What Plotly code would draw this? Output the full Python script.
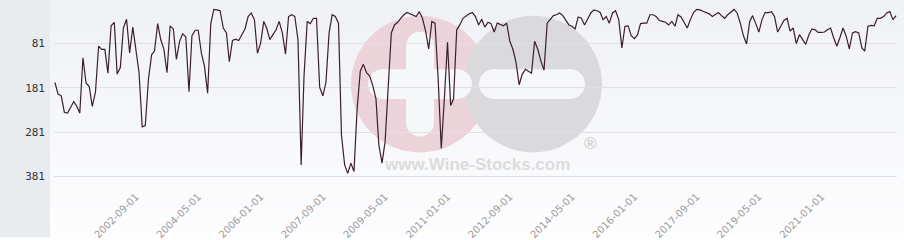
import pandas as pd
import plotly.graph_objects as go

# ---- data (monthly ranking) ----
start_month = "2000-07-01"
rank_values = [
    169, 195, 199, 236, 238, 225, 212, 223, 238, 113,
    170, 178, 223, 191, 87, 94, 94, 148, 41, 33,
    150, 135, 46, 26, 102, 44, 102, 147, 269, 266,
    161, 106, 98, 36, 72, 94, 147, 41, 48, 117,
    76, 59, 66, 190, 63, 51, 51, 102, 132, 193,
    36, 4, 5, 7, 46, 57, 122, 74, 71, 74,
    61, 48, 20, 12, 27, 103, 80, 31, 46, 72,
    61, 50, 31, 57, 105, 20, 16, 20, 72, 355,
    155, 31, 36, 24, 24, 180, 199, 169, 57, 16,
    20, 35, 288, 355, 374, 351, 370, 228, 143, 128,
    147, 154, 176, 206, 310, 351, 303, 176, 57, 39,
    33, 24, 16, 11, 14, 16, 20, 9, 24, 53,
    93, 31, 35, 158, 318, 206, 78, 221, 206, 50,
    39, 24, 18, 14, 11, 20, 39, 26, 44, 33,
    36, 55, 35, 39, 41, 35, 76, 94, 124, 174,
    150, 139, 143, 148, 76, 94, 120, 141, 35, 26,
    18, 16, 12, 18, 29, 39, 42, 48, 21, 24,
    39, 26, 12, 5, 7, 11, 27, 20, 35, 12,
    7, 27, 91, 42, 41, 63, 70, 61, 36, 35,
    35, 16, 16, 20, 29, 31, 33, 39, 31, 42,
    16, 21, 33, 46, 27, 11, 4, 5, 8, 11,
    14, 20, 16, 11, 18, 24, 16, 9, 4, 12,
    35, 63, 82, 31, 18, 36, 55, 27, 11, 11,
    9, 20, 55, 42, 29, 24, 53, 46, 81, 61,
    72, 83, 61, 48, 50, 56, 56, 55, 50, 46,
    68, 87, 68, 46, 65, 93, 57, 54, 57, 91,
    98, 42, 40, 41, 24, 24, 20, 12, 9, 27,
    18,
]
months = pd.date_range(start_month, periods=len(rank_values), freq="MS")

x_tick_dates = ["2002-09-01", "2004-05-01", "2006-01-01", "2007-09-01",
                "2009-05-01", "2011-01-01", "2012-09-01", "2014-05-01",
                "2016-01-01", "2017-09-01", "2019-05-01", "2021-01-01"]
y_tick_values = [81, 181, 281, 381]

# ---- geometry helpers (pixel -> paper) ----
W, H = 904, 240
ML, MR, MT, MB = 54, 7, 0, 50
PW, PH = W - ML - MR, H - MT - MB


def px(x):
    return (x - ML) / PW


def py(y):
    return (MT + PH - y) / PH


shapes = []
# left gray panel
shapes.append(dict(type="rect", xref="paper", yref="paper", layer="below",
                   x0=px(0), x1=px(50), y0=py(H), y1=py(0),
                   fillcolor="#e9ecef", line=dict(width=0)))
# vertical gradient background
nb = 24
c_top = (239, 241, 245)
c_bot = (253, 253, 254)
for k in range(nb):
    t = k / (nb - 1)
    col = tuple(round(c_top[j] + (c_bot[j] - c_top[j]) * t) for j in range(3))
    y0 = k * H / nb
    y1 = (k + 1) * H / nb + 0.5
    shapes.append(dict(type="rect", xref="paper", yref="paper", layer="below",
                       x0=px(50), x1=px(W), y0=py(y1), y1=py(y0),
                       fillcolor="rgb(%d,%d,%d)" % col, line=dict(width=0)))


def circ(cx, cy, r, color):
    return dict(type="circle", xref="paper", yref="paper", layer="below",
                x0=px(cx - r), x1=px(cx + r), y0=py(cy + r), y1=py(cy - r),
                fillcolor=color, line=dict(width=0))


def rect(xa, xb, ya, yb, color):
    return dict(type="rect", xref="paper", yref="paper", layer="below",
                x0=px(xa), x1=px(xb), y0=py(yb), y1=py(ya),
                fillcolor=color, line=dict(width=0))


# watermark logo
pink = "#ecd3da"
grey = "#dadadd"
white = "#f6f7f9"
shapes.append(circ(420, 85, 69, pink))
shapes.append(circ(533, 85, 69, grey))
# plus
shapes.append(rect(406, 434, 46, 124, white))
shapes.append(circ(420, 46, 14, white))
shapes.append(circ(420, 124, 14, white))
shapes.append(rect(383, 457, 70, 100, white))
shapes.append(circ(383, 85, 15, white))
shapes.append(circ(457, 85, 15, white))
# minus
shapes.append(rect(494, 570, 70, 100, white))
shapes.append(circ(494, 85, 15, white))
shapes.append(circ(570, 85, 15, white))

annotations = [
    dict(text="www.Wine-Stocks.com", xref="paper", yref="paper",
         x=px(477), y=py(166), showarrow=False,
         font=dict(family="Liberation Sans", size=17, color="#dcdcdc",
                   weight="bold"),
         xanchor="center", yanchor="middle"),
    dict(text="®", xref="paper", yref="paper",
         x=px(590), y=py(145), showarrow=False,
         font=dict(family="Liberation Sans", size=17, color="#d2d2d2",
                   weight="bold"),
         xanchor="center", yanchor="middle"),
]

fig = go.Figure()
fig.add_trace(go.Scatter(
    x=months, y=rank_values, mode="lines",
    line=dict(color="#3b1f2b", width=1.2),
    hoverinfo="skip", showlegend=False,
))

fig.update_layout(
    width=W, height=H, autosize=False,
    margin=dict(l=ML, r=MR, t=MT, b=MB, pad=0),
    paper_bgcolor="#ffffff",
    plot_bgcolor="rgba(0,0,0,0)",
    shapes=shapes,
    annotations=annotations,
    showlegend=False,
)

fig.update_xaxes(
    type="date",
    range=["2000-06-22", "2023-01-10"],
    tickvals=x_tick_dates,
    ticktext=x_tick_dates,
    tickangle=-45,
    showgrid=False, zeroline=False, showline=False,
    ticks="",
    tickfont=dict(family="DejaVu Sans", size=10, color="#9a9a9a"),
)
fig.update_yaxes(
    range=[407.1, -17.3],
    tickvals=y_tick_values,
    ticktext=[str(v) for v in y_tick_values],
    showgrid=True, gridcolor="#e1e1e3", gridwidth=1,
    zeroline=False, showline=False, ticks="",
    ticklabelstandoff=8,
    tickfont=dict(family="DejaVu Sans Mono", size=11, color="#333333"),
)

fig.write_html("out.html")
